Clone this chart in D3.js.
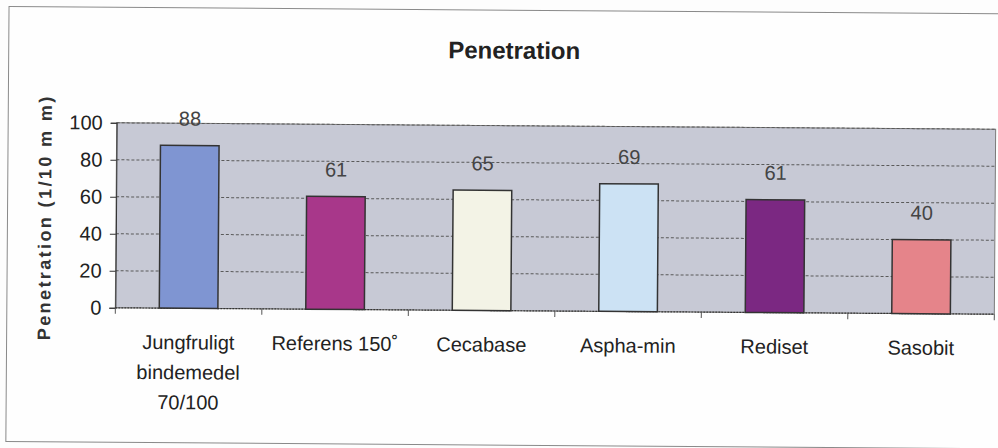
<!DOCTYPE html>
<html>
<head>
<meta charset="utf-8">
<script src="https://cdn.jsdelivr.net/npm/d3@7"></script>
<style>
  html, body { margin: 0; padding: 0; background: #fdfdfd; }
  svg { display: block; font-family: "Liberation Sans", Arial, sans-serif; }
</style>
</head>
<body>
<svg id="chart" width="998" height="448"></svg>
<script>
// Penetration per binder type
const categories = [
  ["Jungfruligt", "bindemedel", "70/100"],
  ["Referens 150˚"],
  ["Cecabase"],
  ["Aspha-min"],
  ["Rediset"],
  ["Sasobit"]
];
const values = [88, 61, 65, 69, 61, 40];
const barColors = ["#7f95d2", "#a8378a", "#f3f3e6", "#cce2f4", "#7b2882", "#e5848a"];
const yTicks = [0, 20, 40, 60, 80, 100];

const svg = d3.select("#chart");
const root = svg.append("g").attr("transform", "rotate(0.42, 555, 218)");

// outer frame
root.append("rect")
  .attr("x", 7.5).attr("y", 10.5).attr("width", 1000).attr("height", 435)
  .attr("fill", "#fefefe").attr("stroke", "#8a8a8a").attr("stroke-width", 1);

const plot = { left: 116, right: 995, top: 126, bottom: 311 };
const ids = categories.map((c, i) => i);

const x = d3.scaleBand().domain(ids).range([plot.left, plot.right])
  .paddingInner(0.6).paddingOuter(0.3);
const y = d3.scaleLinear().domain([0, 100]).range([plot.bottom, plot.top]);

// plot background
root.append("rect")
  .attr("x", plot.left).attr("y", plot.top)
  .attr("width", plot.right - plot.left).attr("height", plot.bottom - plot.top)
  .attr("fill", "#c7c9d5").attr("stroke", "#7a7a7a").attr("stroke-width", 1);

// gridlines
root.append("g").selectAll("line").data(yTicks.filter(t => t > 0)).join("line")
  .attr("x1", plot.left).attr("x2", plot.right)
  .attr("y1", d => y(d)).attr("y2", d => y(d))
  .attr("stroke", "#5a5a5a").attr("stroke-width", 1).attr("stroke-dasharray", "3,2");

// y axis
const yAxis = root.append("g").attr("transform", `translate(${plot.left},0)`)
  .call(d3.axisLeft(y).tickValues(yTicks).tickSize(6).tickPadding(8));
yAxis.select(".domain").attr("stroke", "#333");
yAxis.selectAll(".tick line").attr("stroke", "#333");
yAxis.selectAll("text").attr("font-size", 20).attr("fill", "#222")
  .attr("font-family", "Liberation Sans, Arial, sans-serif");

// x axis: ticks at category boundaries
const step = x.step();
const bounds = d3.range(categories.length + 1).map(i => plot.left + i * step);
root.append("line")
  .attr("x1", plot.left).attr("x2", plot.right)
  .attr("y1", plot.bottom).attr("y2", plot.bottom)
  .attr("stroke", "#333").attr("stroke-width", 1.2).attr("stroke-dasharray", "2,1");
root.append("g").selectAll("line").data(bounds).join("line")
  .attr("x1", d => d).attr("x2", d => d)
  .attr("y1", plot.bottom).attr("y2", plot.bottom + 6)
  .attr("stroke", "#555");

// bars
root.append("g").selectAll("rect").data(values).join("rect")
  .attr("x", (d, i) => x(i)).attr("width", x.bandwidth())
  .attr("y", d => y(d)).attr("height", d => y(0) - y(d))
  .attr("fill", (d, i) => barColors[i])
  .attr("stroke", "#333").attr("stroke-width", 1.5);

// value labels
root.append("g").selectAll("text").data(values).join("text")
  .attr("x", (d, i) => x(i) + x.bandwidth() / 2)
  .attr("y", d => y(d) - 20)
  .attr("text-anchor", "middle").attr("font-size", 20).attr("fill", "#444")
  .text(d => d);

// category labels
const catG = root.append("g");
categories.forEach((lines, i) => {
  const t = catG.append("text")
    .attr("x", x(i) + x.bandwidth() / 2).attr("y", 352)
    .attr("text-anchor", "middle").attr("font-size", 20).attr("fill", "#222");
  lines.forEach((ln, j) => {
    t.append("tspan").attr("x", x(i) + x.bandwidth() / 2)
      .attr("dy", j === 0 ? 0 : 30).text(ln);
  });
});

// title
root.append("text")
  .attr("x", 513).attr("y", 59).attr("text-anchor", "middle")
  .attr("font-size", 24).attr("font-weight", "bold").attr("fill", "#222")
  .text("Penetration");

// y axis title
root.append("text")
  .attr("transform", "translate(51,221) rotate(-90)")
  .attr("text-anchor", "middle").attr("font-size", 18).attr("font-weight", "bold")
  .attr("letter-spacing", 2.4).attr("fill", "#333")
  .text("Penetration (1/10 m m)");
</script>
</body>
</html>
